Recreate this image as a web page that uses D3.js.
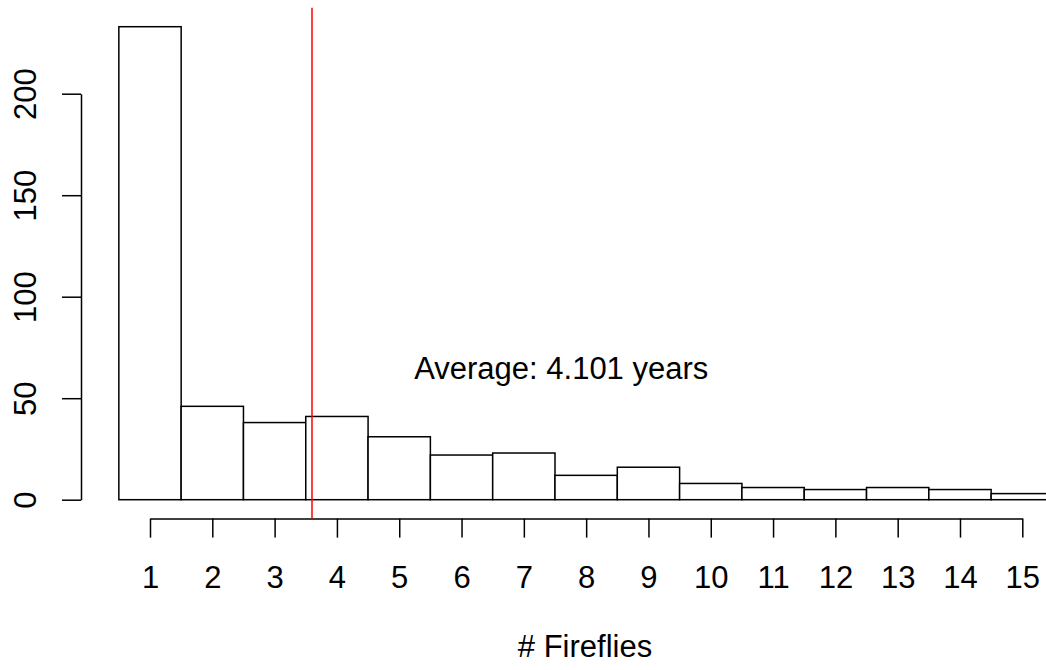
<!DOCTYPE html>
<html>
<head>
<meta charset="utf-8">
<script src="https://cdn.jsdelivr.net/npm/d3@7"></script>
<style>
  body { margin: 0; background: #fff; }
  svg { display: block; }
  text { font-family: "Liberation Sans", Arial, sans-serif; }
</style>
</head>
<body>
<div id="chart"></div>
<script>
// histogram counts per number of fireflies
var categories = [1, 2, 3, 4, 5, 6, 7, 8, 9, 10, 11, 12, 13, 14, 15];
var counts = [233, 46, 38, 41, 31, 22, 23, 12, 16, 8, 6, 5, 6, 5, 3];
var yTicks = [0, 50, 100, 150, 200];
var avgLineAt = [3.6];
var avgLabel = ["Average: 4.101 years"];
var avgLabelPos = [7.6, 65];
var xTitle = "# Fireflies";

var width = 1046, height = 670;
var fontSize = 31;

var svg = d3.select("#chart")
  .append("svg")
  .attr("width", width)
  .attr("height", height);

var x = d3.scaleLinear().domain([1, 15]).range([150, 1022.3]);
var y = d3.scaleLinear().domain([0, 200]).range([499.7, 93.7]);

// R style plot region, 4% padding on the y range
var yPad = d3.max(counts) * 0.04;
var plotTop = y(d3.max(counts) + yPad);
var plotBottom = y(-yPad);

// bars
svg.selectAll(".bar")
  .data(counts)
  .enter()
  .append("rect")
  .attr("class", "bar")
  .attr("x", function(d, i) { return x(categories[i] - 0.5); })
  .attr("width", function(d, i) { return x(categories[i] + 0.5) - x(categories[i] - 0.5); })
  .attr("y", function(d) { return y(d); })
  .attr("height", function(d) { return y(0) - y(d); })
  .attr("fill", "#fff")
  .attr("stroke", "#000")
  .attr("stroke-width", 1.5);

// x axis
var xAxis = svg.append("g")
  .attr("transform", "translate(0," + plotBottom + ")")
  .call(d3.axisBottom(x)
    .tickValues(categories)
    .tickFormat(d3.format("d"))
    .tickSize(19)
    .tickSizeOuter(0)
    .tickPadding(28));

// y axis
var yAxis = svg.append("g")
  .attr("transform", "translate(81,0)")
  .call(d3.axisLeft(y)
    .tickValues(yTicks)
    .tickSize(19)
    .tickSizeOuter(0));

yAxis.selectAll(".tick text")
  .attr("x", null)
  .attr("dy", null)
  .attr("text-anchor", "middle")
  .attr("transform", "translate(-45,0) rotate(-90)");

[xAxis, yAxis].forEach(function(a) {
  a.selectAll("path, line").attr("stroke", "#000").attr("stroke-width", 1.5);
  a.selectAll("text")
    .attr("fill", "#000")
    .attr("font-size", fontSize)
    .attr("font-family", "'Liberation Sans', Arial, sans-serif");
});

// average line
svg.selectAll(".avg")
  .data(avgLineAt)
  .enter()
  .append("line")
  .attr("class", "avg")
  .attr("x1", function(d) { return x(d); })
  .attr("x2", function(d) { return x(d); })
  .attr("y1", plotTop)
  .attr("y2", plotBottom)
  .attr("stroke", "#ff0000")
  .attr("stroke-width", 1.5);

svg.append("text")
  .attr("x", x(avgLabelPos[0]))
  .attr("y", y(avgLabelPos[1]))
  .attr("dy", "0.35em")
  .attr("text-anchor", "middle")
  .attr("font-size", fontSize)
  .attr("fill", "#000")
  .text(avgLabel[0]);

// x title
svg.append("text")
  .attr("x", 585)
  .attr("y", 657)
  .attr("text-anchor", "middle")
  .attr("font-size", fontSize)
  .attr("fill", "#000")
  .text(xTitle);
</script>
</body>
</html>
